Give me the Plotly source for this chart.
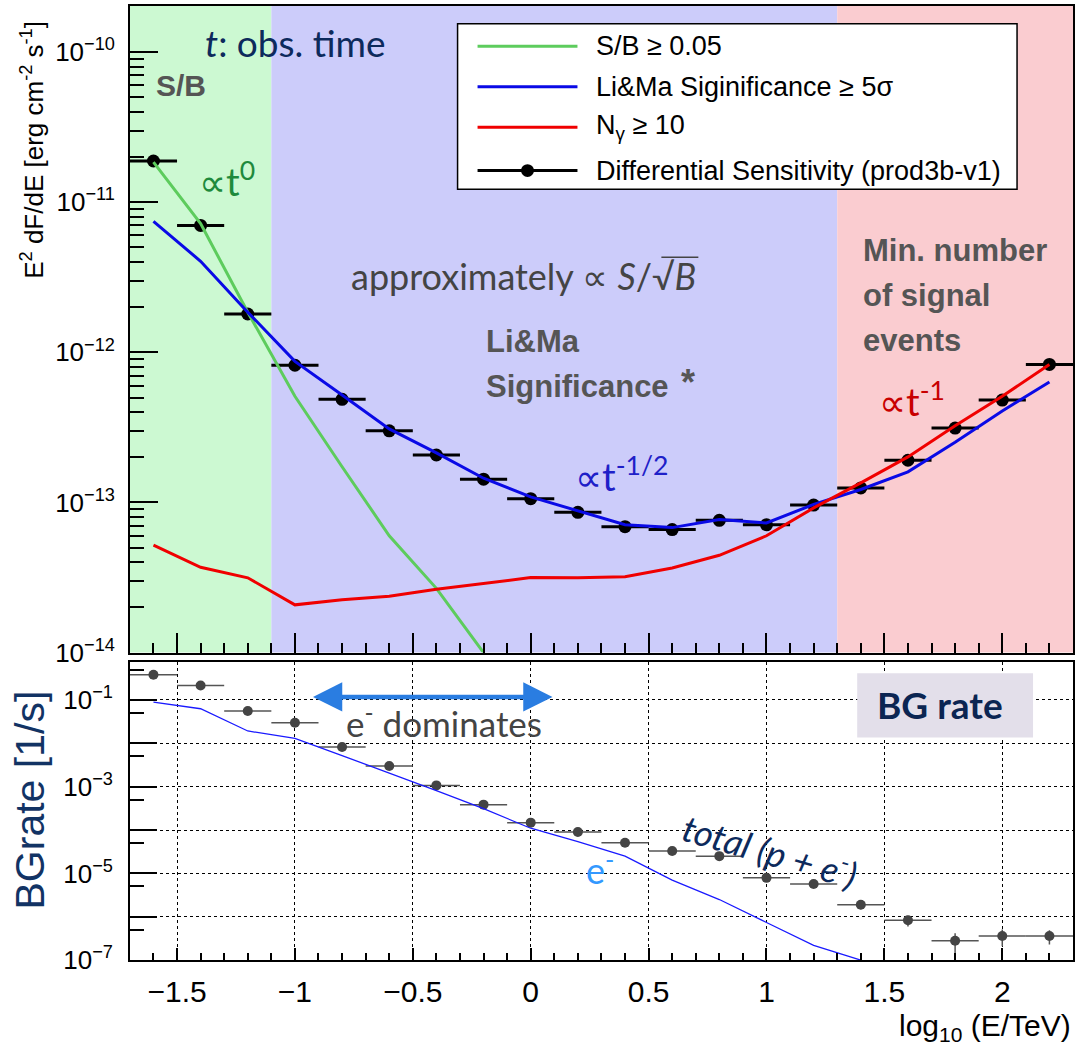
import plotly.graph_objects as go

# ---------------------------------------------------------------------------
# Data
# ---------------------------------------------------------------------------
# bin centres in log10(E/TeV)
log_e = [-1.6, -1.4, -1.2, -1.0, -0.8, -0.6, -0.4, -0.2, 0.0, 0.2,
         0.4, 0.6, 0.8, 1.0, 1.2, 1.4, 1.6, 1.8, 2.0, 2.2]
bin_halfwidth = [0.1] * len(log_e)

# differential sensitivity, E^2 dF/dE [erg cm^-2 s^-1]
sensitivity = [1.88e-11, 7.0e-12, 1.80e-12, 8.2e-13, 4.86e-13, 3.0e-13, 2.07e-13,
               1.43e-13, 1.06e-13, 8.6e-14, 6.9e-14, 6.6e-14, 7.6e-14, 7.1e-14,
               9.6e-14, 1.25e-13, 1.91e-13, 3.13e-13, 4.81e-13, 8.3e-13]

# S/B >= 0.05 condition (only defined at low energies)
log_e_sb = [-1.6, -1.4, -1.2, -1.0, -0.8, -0.6, -0.4, -0.2]
sens_sb = [1.85e-11, 7.2e-12, 1.85e-12, 5.1e-13, 1.73e-13, 6.0e-14, 2.68e-14, 1.0e-14]

# Li&Ma significance >= 5 sigma
sens_lima = [7.46e-12, 4.04e-12, 1.85e-12, 8.7e-13, 5.2e-13, 3.09e-13, 2.14e-13,
             1.45e-13, 1.09e-13, 8.8e-14, 7.1e-14, 6.8e-14, 7.7e-14, 7.3e-14,
             9.7e-14, 1.22e-13, 1.60e-13, 2.52e-13, 4.07e-13, 6.35e-13]

# N_gamma >= 10
sens_ngamma = [5.2e-14, 3.7e-14, 3.15e-14, 2.08e-14, 2.25e-14, 2.37e-14, 2.64e-14,
               2.89e-14, 3.16e-14, 3.15e-14, 3.2e-14, 3.66e-14, 4.45e-14, 6.0e-14,
               9.2e-14, 1.35e-13, 2.01e-13, 3.24e-13, 5.1e-13, 8.3e-13]

# background rate [1/s], total (p + e-)
bg_total = [0.38, 0.215, 0.0553, 0.0297, 8.2e-3, 2.99e-3, 1.07e-3, 3.85e-4,
            1.48e-4, 9.0e-5, 5.1e-5, 3.3e-5, 2.5e-5, 7.9e-6, 5.7e-6, 1.9e-6,
            8.3e-7, 2.8e-7, 3.6e-7, 3.6e-7]
bg_total_err = [0.004, 0.003, 0.001, 0.0005, 1e-4, 4e-5, 1.5e-5, 6e-6,
                3e-6, 2e-6, 1.2e-6, 1e-6, 8e-7, 5e-7, 5e-7, 4e-7,
                2.3e-7, 1.4e-7, 1.5e-7, 1.3e-7]

# background rate [1/s], electrons only
log_e_el = [-1.6, -1.4, -1.2, -1.0, -0.8, -0.6, -0.4, -0.2, 0.0, 0.2,
            0.4, 0.6, 0.8, 1.0, 1.2, 1.4]
bg_electron = [0.0885, 0.0625, 0.0192, 0.0129, 5.2e-3, 2.07e-3, 8.1e-4, 3.1e-4,
               1.1e-4, 5.4e-5, 2.5e-5, 7.0e-6, 2.5e-6, 7.4e-7, 2.2e-7, 1.0e-7]

# regimes dominating the sensitivity: S/B, Li&Ma, N_gamma
regime_edges = [-1.7, -1.1, 1.3, 2.3]
regime_colors = ["rgb(204,249,210)", "rgb(204,204,250)", "rgb(250,204,208)"]

# axis ticks
x_major = [-1.5, -1.0, -0.5, 0.0, 0.5, 1.0, 1.5, 2.0]
x_major_text = ["\u22121.5", "\u22121", "\u22120.5", "0", "0.5", "1", "1.5", "2"]
y1_decades = [-14, -13, -12, -11, -10]
y2_decades = [-7, -6, -5, -4, -3, -2, -1]
y2_labelled = [-7, -5, -3, -1]

# ---------------------------------------------------------------------------
# Figure geometry (pixels)
# ---------------------------------------------------------------------------
W, H = 1075, 1058


def px(x):
    return x / W


def py(y):
    return 1 - y / H


GREEN = "#5dcc5d"
BLUE = "#0a0ae6"
RED = "#f00000"
NAVY = "#0d2a5c"
GREY = "#555555"
ROOT_FONT = "Liberation Sans, Arial, sans-serif"
SLIDE_FONT = "Lato, Open Sans, sans-serif"


def power_label(exp):
    # ROOT-like "10^-n" tick label
    return "10<sup>\u2212%d</sup>" % -exp


fig = go.Figure()

# ---- upper panel ---------------------------------------------------------
fig.add_trace(go.Scatter(
    x=log_e, y=sensitivity, mode="markers",
    marker=dict(color="black", size=13),
    error_x=dict(type="data", array=bin_halfwidth, color="black", thickness=3, width=0),
    xaxis="x", yaxis="y", showlegend=False))
fig.add_trace(go.Scatter(x=log_e_sb, y=sens_sb, mode="lines",
                         line=dict(color=GREEN, width=3), xaxis="x", yaxis="y",
                         showlegend=False))
fig.add_trace(go.Scatter(x=log_e, y=sens_lima, mode="lines",
                         line=dict(color=BLUE, width=3), xaxis="x", yaxis="y",
                         showlegend=False))
fig.add_trace(go.Scatter(x=log_e, y=sens_ngamma, mode="lines",
                         line=dict(color=RED, width=3), xaxis="x", yaxis="y",
                         showlegend=False))

# ---- lower panel ---------------------------------------------------------
fig.add_trace(go.Scatter(
    x=log_e, y=bg_total, mode="markers",
    marker=dict(color="#444444", size=10),
    error_x=dict(type="data", array=bin_halfwidth, color="#555555", thickness=1.5, width=0),
    error_y=dict(type="data", array=bg_total_err, color="#555555", thickness=1.5, width=0),
    xaxis="x2", yaxis="y2", showlegend=False))
fig.add_trace(go.Scatter(x=log_e_el, y=bg_electron, mode="lines",
                         line=dict(color="#1a1aff", width=1.3), xaxis="x2", yaxis="y2",
                         showlegend=False))

shapes = []
for i, col in enumerate(regime_colors):
    shapes.append(dict(type="rect", xref="x", yref="y domain",
                       x0=regime_edges[i], x1=regime_edges[i + 1], y0=0, y1=1,
                       fillcolor=col, line=dict(width=0), layer="below"))

annotations = []


def note(text, x, y, size, color, font=SLIDE_FONT, xanchor="center", yanchor="middle",
         angle=0):
    annotations.append(dict(text=text, x=px(x), y=py(y), xref="paper", yref="paper",
                            showarrow=False, xanchor=xanchor, yanchor=yanchor,
                            textangle=angle, font=dict(family=font, size=size, color=color)))


# ---- legend (drawn by hand) ----------------------------------------------
shapes.append(dict(type="rect", xref="paper", yref="paper",
                   x0=px(458), x1=px(1018), y0=py(192), y1=py(24),
                   fillcolor="white", line=dict(color="black", width=1.5), layer="above"))
legend_rows = [
    ("S/B \u2265 0.05", GREEN, 47),
    ("Li&amp;Ma Siginificance \u2265 5\u03c3", BLUE, 88),
    ("N<sub>\u03b3</sub> \u2265 10", RED, 129),
    ("Differential Sensitivity (prod3b-v1)", "black", 173),
]
for label, col, yy in legend_rows:
    shapes.append(dict(type="line", xref="paper", yref="paper",
                       x0=px(478), x1=px(578), y0=py(yy), y1=py(yy),
                       line=dict(color=col, width=3), layer="above"))
    note(label, 595, yy, 27, "black", font=ROOT_FONT, xanchor="left")
shapes.append(dict(type="circle", xref="paper", yref="paper",
                   x0=px(521.5), x1=px(534.5), y0=py(179.5), y1=py(166.5),
                   fillcolor="black", line=dict(color="black", width=0), layer="above"))

# ---- upper panel texts -----------------------------------------------------
note("<i>t</i>: obs. time", 296, 43, 37, NAVY)
note("<b>S/B</b>", 154, 87, 30, GREY, font=ROOT_FONT, xanchor="left")
note("\u221dt<sup>0</sup>", 227, 182, 38, "#1e8a3c")
note("approximately \u221d <i>S</i>/\u221a<i>B</i>", 524, 280, 36, "#444444")
shapes.append(dict(type="line", xref="paper", yref="paper",
                   x0=px(662), x1=px(699), y0=py(261), y1=py(261),
                   line=dict(color="#444444", width=1.5), layer="above"))
note("<b>Li&amp;Ma</b>", 484, 346, 31, GREY, font=ROOT_FONT, xanchor="left")
note("<b>Significance</b>", 484, 392, 31, GREY, font=ROOT_FONT, xanchor="left")
note("<b>*</b>", 689, 388, 36, GREY, font=ROOT_FONT)
note("\u221dt<sup>-1/2</sup>", 622, 481, 38, "#1e20c8")
note("<b>Min. number</b>", 862, 254, 31, GREY, font=ROOT_FONT, xanchor="left")
note("<b>of signal</b>", 862, 300, 31, GREY, font=ROOT_FONT, xanchor="left")
note("<b>events</b>", 862, 345, 31, GREY, font=ROOT_FONT, xanchor="left")
note("\u221dt<sup>-1</sup>", 913, 405, 38, "#c80000")

# ---- lower panel texts -----------------------------------------------------
shapes.append(dict(type="rect", xref="paper", yref="paper",
                   x0=px(858), x1=px(1034), y0=py(748), y1=py(683),
                   fillcolor="#e3dfea", line=dict(width=0), layer="above"))
note("<b>BG rate</b>", 941, 715, 37, "#0b2552")
note("e<sup>-</sup> dominates", 444, 731, 35, "#444444")
note("<i>total (p + e<sup>-</sup>)</i>", 771, 861, 36, NAVY, angle=16)
note("e<sup>-</sup>", 601, 880, 36, "#3399ff")
annotations.append(dict(text="", x=px(553), y=py(707), xref="paper", yref="paper",
                        ax=-241, ay=0, showarrow=True, arrowhead=2, arrowside="end+start",
                        arrowsize=1.3, arrowwidth=4.5, arrowcolor="#2a7de1"))

# ---- axis titles -----------------------------------------------------------
note("E<sup>2</sup> dF/dE [erg cm<sup>-2</sup> s<sup>-1</sup>]", 33, 152, 26, "black",
     font=ROOT_FONT, angle=-90)
note("BGrate [1/s]", 30, 811, 41, "#123364", font=ROOT_FONT, angle=-90)
note("log<sub>10</sub> (E/TeV)", 1074, 1042, 30, "black", font=ROOT_FONT, xanchor="right")

# ---------------------------------------------------------------------------
# Axes
# ---------------------------------------------------------------------------
x_minor = [round(-1.7 + 0.1 * k, 1) for k in range(41)]
x_minor = [v for v in x_minor if v not in x_major]
y1_minor = [m * 10.0 ** d for d in range(-14, -9) for m in range(2, 10)]
y2_minor = [5 * 10.0 ** d for d in range(-7, 0)]

frame = dict(showline=True, linecolor="black", linewidth=1.5, mirror=True, zeroline=False)
x_tick_font = dict(family=ROOT_FONT, size=30, color="black")
y_tick_font = dict(family=ROOT_FONT, size=26, color="black")

fig.update_layout(
    width=W, height=H, margin=dict(l=0, r=0, t=0, b=0),
    paper_bgcolor="white", plot_bgcolor="white",
    shapes=shapes, annotations=annotations, showlegend=False,
    xaxis=dict(domain=[px(130), px(1074)], range=[-1.7, 2.3], anchor="y", matches="x2",
               tickmode="array", tickvals=x_major, ticks="inside", ticklen=20,
               tickwidth=1.5, tickcolor="black", showticklabels=False, showgrid=False,
               minor=dict(tickmode="array", tickvals=x_minor, ticks="inside", ticklen=10,
                          tickwidth=1.5, tickcolor="black", showgrid=False),
               **frame),
    yaxis=dict(domain=[py(662), py(6)], type="log", range=[-14, -9.693], anchor="x",
               tickmode="array", tickvals=[10.0 ** d for d in y1_decades],
               ticktext=[power_label(d) for d in y1_decades],
               ticks="inside", ticklen=28, tickwidth=1.5, tickcolor="black",
               ticklabelstandoff=8, tickfont=y_tick_font, showgrid=False,
               minor=dict(tickmode="array", tickvals=y1_minor, ticks="inside", ticklen=14,
                          tickwidth=1.5, tickcolor="black", showgrid=False),
               **frame),
    xaxis2=dict(domain=[px(130), px(1074)], range=[-1.7, 2.3], anchor="y2",
                tickmode="array", tickvals=x_major, ticktext=x_major_text,
                ticks="inside", ticklen=12, tickwidth=1.5, tickcolor="black",
                ticklabelstandoff=4, tickfont=x_tick_font,
                showgrid=True, gridcolor="black", griddash="dot", gridwidth=1,
                minor=dict(tickmode="array", tickvals=x_minor, ticks="inside", ticklen=7,
                           tickwidth=1.5, tickcolor="black", showgrid=False),
                **frame),
    yaxis2=dict(domain=[py(974), py(671.7)], type="log", range=[-7, -0.131], anchor="x2",
                tickmode="array", tickvals=[10.0 ** d for d in y2_decades],
                ticktext=[power_label(d) if d in y2_labelled else "" for d in y2_decades],
                ticks="inside", ticklen=27, tickwidth=1.5, tickcolor="black",
                ticklabelstandoff=10, tickfont=y_tick_font,
                showgrid=True, gridcolor="black", griddash="dot", gridwidth=1,
                minor=dict(tickmode="array", tickvals=y2_minor, ticks="inside", ticklen=14,
                           tickwidth=1.5, tickcolor="black", showgrid=False),
                **frame),
)

fig.write_html("out.html")
